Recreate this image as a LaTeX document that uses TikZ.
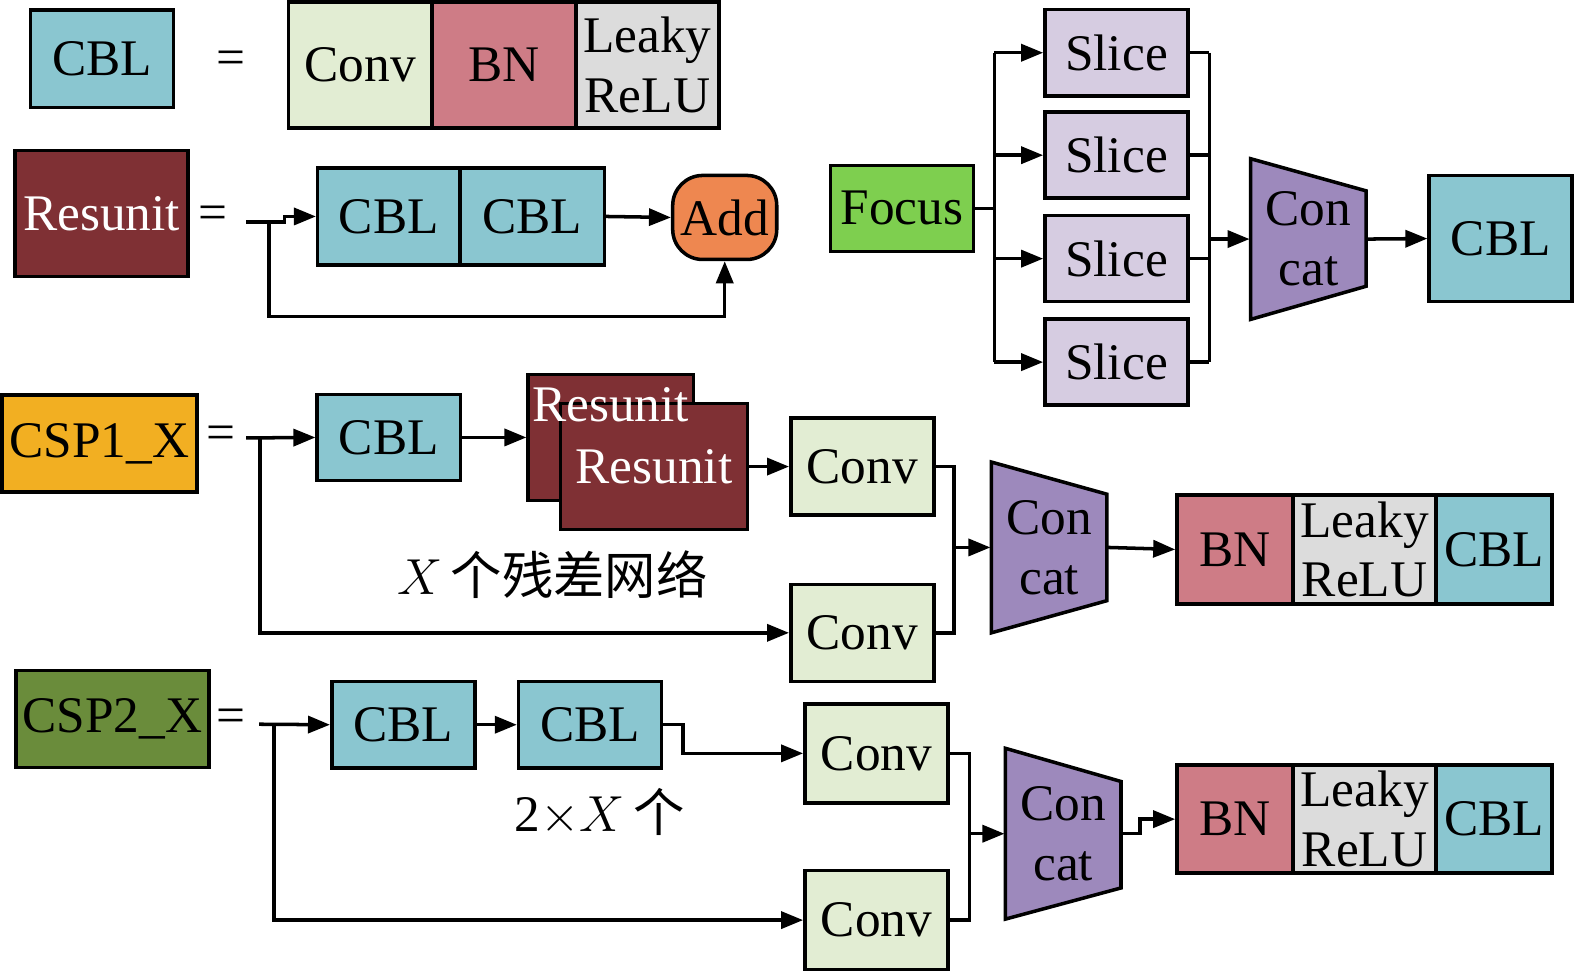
\documentclass[tikz,border=0pt]{standalone}
\usepackage{fontspec}
\setmainfont{Liberation Serif}
\newfontfamily\cjk{Noto Sans CJK SC}
\usepackage{xcolor}
\usetikzlibrary{arrows.meta,positioning}

\definecolor{cblc}{HTML}{8AC6D0}
\definecolor{convc}{HTML}{E2EDD3}
\definecolor{bnc}{HTML}{CE7C86}
\definecolor{lrc}{HTML}{DCDCDC}
\definecolor{resc}{HTML}{7F3034}
\definecolor{addc}{HTML}{EE8750}
\definecolor{focc}{HTML}{7ECF4F}
\definecolor{slic}{HTML}{D6CCE1}
\definecolor{ccc}{HTML}{9D89BC}
\definecolor{csp1c}{HTML}{F2AF22}
\definecolor{csp2c}{HTML}{6A8C3B}

\begin{document}
\begin{tikzpicture}[x=0.010045cm, y=-0.010045cm,
  font=\fontsize{14.6}{17}\selectfont,
  box/.style={draw, line width=1pt, inner sep=0pt, align=center,
    minimum width=1.43cm, minimum height=0.97cm},
  cbl/.style={box, fill=cblc},
  conv/.style={box, fill=convc},
  bn/.style={box, fill=bnc},
  lrelu/.style={box, fill=lrc},
  res/.style={box, fill=resc, text=white},
  slice/.style={box, fill=slic, minimum height=0.86cm},
  trap/.style={draw, line width=1pt, fill=ccc, line join=miter},
  cctext/.style={inner sep=0pt, align=center, minimum width=1.16cm, minimum height=1cm},
  line/.style={line width=1pt},
  arr/.style={line width=1pt, -{Triangle[length=0.22cm,width=0.17cm]}},
]
\useasboundingbox (0,0) rectangle (1568,967);

% CBL
\node[cbl] (cblL) at (101.5,58.5) {CBL};
\node (eq1) at (230,62) {=};
\node[conv, minimum height=1.26cm] (conv0) at (358.5,64.5) {Conv};
\node[bn, minimum height=1.26cm] (bn0) at (501.5,64.5) {BN};
\node[lrelu, minimum height=1.26cm] (lr0) at (644.5,64.5) {Leaky\\ReLU};

% Resunit
\node[res, minimum width=1.73cm, minimum height=1.26cm] (resL) at (101,212.5) {Resunit};
\node (eq2) at (212,217) {=};
\node[cbl, minimum width=1.42cm] (cblA) at (387,215.5) {CBL};
\node[cbl, minimum width=1.44cm] (cblB) at (530,215.5) {CBL};
\node[draw, line width=1pt, fill=addc, rounded corners=0.3cm, inner sep=0pt,
  minimum width=1.04cm, minimum height=0.84cm] (add) at (721.5,216.5) {Add};
\coordinate (r0) at (245,221);
\coordinate (rb) at (268,315);
\draw[arr] (r0) -- (283,221) |- (cblA.west);
\draw[arr] (cblB.east) -- (add.west);
\draw[arr] (rb |- r0) -- (rb) -| (add.south);

% Focus
\node[box, fill=focc, minimum width=1.43cm, minimum height=0.86cm] (focus) at (898,207.5) {Focus};
\foreach \i/\y in {1/52.5, 2/154.5, 3/257.5, 4/360.5}
  \node[slice] (s\i) at (1111.5,\y) {Slice};
\coordinate (fb) at (990,207.5);
\coordinate (sb) at (1204,238);
\draw[line] (focus.east) -- (fb);
\draw[line] (fb |- s1) -- (fb |- s4);
\draw[line] (sb |- s1) -- (sb |- s4);
\foreach \i in {1,...,4} {
  \draw[arr] (fb |- s\i) -- (s\i.west);
  \draw[line] (s\i.east) -- (sb |- s\i);
}
\filldraw[trap] (1245,158) -- (1245,318) -- (1360,285) -- (1360,190) -- cycle;
\node[cctext] (cc1) at (1302.5,238) {Con\\cat};
\node[cbl, minimum width=1.43cm, minimum height=1.26cm] (cblF) at (1494,237.5) {CBL};
\draw[arr] (sb) -- (cc1.west);
\draw[arr] (cc1.east) -- (cblF.west);

% CSP1_X
\node[box, fill=csp1c, minimum width=1.95cm] (csp1) at (99,441.5) {CSP1\_X};
\node (eq3) at (220,436) {=};
\coordinate (c1) at (245,436);
\node[cbl, minimum height=0.86cm] (cblC) at (387,435.5) {CBL};
\node[res, minimum width=1.65cm, minimum height=1.26cm] (resB) at (608,435.5) {};
\node[res, minimum width=1.87cm, minimum height=1.26cm] (resF) at (651,464.5) {Resunit};
\node[text=white, inner sep=0pt] (resBt) at (608,403) {Resunit};
\node[conv] (convA) at (858.5,464.5) {Conv};
\node[conv] (convB) at (858.5,630) {Conv};
\node (lab1) at (550,572) {$X$\,{\cjk 个残差网络}};
\draw[arr] (c1) -- (cblC.west);
\draw[arr] (cblC.east) -- (resB.west);
\draw[arr] (resF.east) -- (convA.west);
\draw[arr] (259,436) |- (convB.west);
\coordinate (b1) at (950,545);
\draw[line] (convA.east) -| (b1) |- (convB.east);
\filldraw[trap] (987,460) -- (987,630) -- (1102,598) -- (1102,492) -- cycle;
\node[cctext] (cc2) at (1044.5,545) {Con\\cat};
\draw[arr] (b1) -- (cc2.west);
\node[bn, minimum width=1.16cm, minimum height=1.09cm] (bnA) at (1229.5,547) {BN};
\node[lrelu, minimum height=1.09cm] (lrA) at (1358.5,547) {Leaky\\ReLU};
\node[cbl, minimum width=1.16cm, minimum height=1.09cm] (cblG) at (1487.5,547) {CBL};
\draw[arr] (cc2.east) -- (bnA.west);

% CSP2_X
\node[box, fill=csp2c, minimum width=1.93cm, minimum height=0.97cm] (csp2) at (112,716) {CSP2\_X};
\node (eq4) at (230,718) {=};
\coordinate (c2) at (258,721);
\node[cbl, minimum height=0.86cm] (cblD) at (401.5,721.5) {CBL};
\node[cbl, minimum height=0.86cm] (cblE) at (587.5,721.5) {CBL};
\node[conv, minimum height=0.99cm] (convC) at (872.5,750) {Conv};
\node[conv, minimum height=0.99cm] (convD) at (872.5,916) {Conv};
\node (lab2) at (597,808) {2$\times$$X$\,{\cjk 个}};
\draw[arr] (c2) -- (cblD.west);
\draw[arr] (cblD.east) -- (cblE.west);
\draw[arr] (cblE.east) -- (680,721.5) |- (convC.west);
\draw[arr] (273,721) |- (convD.west);
\coordinate (b2) at (965,830);
\draw[line] (convC.east) -| (b2) |- (convD.east);
\filldraw[trap] (1001,745) -- (1001,915) -- (1116,884) -- (1116,778) -- cycle;
\node[cctext] (cc3) at (1058.5,830) {Con\\cat};
\draw[arr] (b2) -- (cc3.west);
\node[bn, minimum width=1.16cm, minimum height=1.08cm] (bnB) at (1229.5,815.5) {BN};
\node[lrelu, minimum height=1.08cm] (lrB) at (1358.5,815.5) {Leaky\\ReLU};
\node[cbl, minimum width=1.16cm, minimum height=1.08cm] (cblH) at (1487.5,815.5) {CBL};
\draw[arr] (cc3.east) -- (1135,830) |- (bnB.west);
\end{tikzpicture}
\end{document}
